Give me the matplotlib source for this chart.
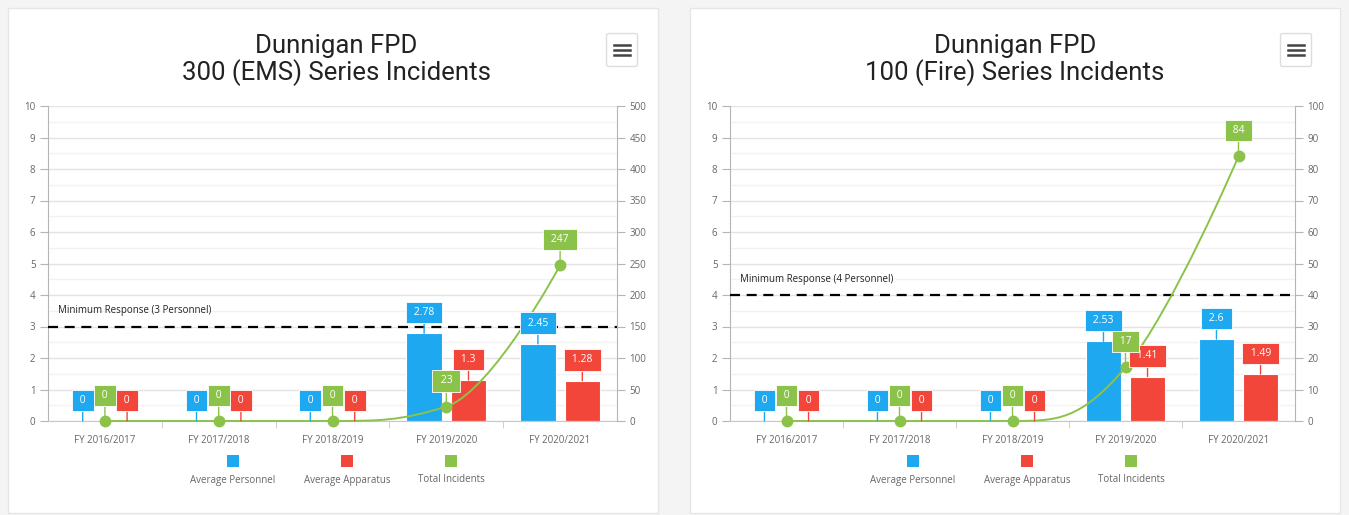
import matplotlib
matplotlib.use('Agg')
import matplotlib.pyplot as plt
from matplotlib.patches import Rectangle, FancyBboxPatch, PathPatch
from matplotlib.path import Path
from matplotlib.ticker import MultipleLocator, FixedLocator

# ---------------- data ----------------
categories = ['FY 2016/2017', 'FY 2017/2018', 'FY 2018/2019', 'FY 2019/2020', 'FY 2020/2021']
legend_labels = ['Average Personnel', 'Average Apparatus', 'Total Incidents']

ems_title = ['Dunnigan FPD', '300 (EMS) Series Incidents']
ems_personnel = [0, 0, 0, 2.78, 2.45]
ems_apparatus = [0, 0, 0, 1.3, 1.28]
ems_incidents = [0, 0, 0, 23, 247]
ems_min_response = 3
ems_min_label = 'Minimum Response (3 Personnel)'
ems_right_max = 500
ems_right_step = 50

fire_title = ['Dunnigan FPD', '100 (Fire) Series Incidents']
fire_personnel = [0, 0, 0, 2.53, 2.6]
fire_apparatus = [0, 0, 0, 1.41, 1.49]
fire_incidents = [0, 0, 0, 17, 84]
fire_min_response = 4
fire_min_label = 'Minimum Response (4 Personnel)'
fire_right_max = 100
fire_right_step = 10

left_max = 10

# ---------------- style ----------------
BLUE = '#1EA8F0'
RED = '#F2463B'
GREEN = '#8BC34A'
TICK_COL = '#666666'
AXIS_COL = '#B5B5B5'
W, H = 1349, 515
DPI = 100
PX = 72.0 / DPI  # points per pixel

plt.rcParams['font.family'] = ['Open Sans', 'DejaVu Sans']

fig = plt.figure(figsize=(W / DPI, H / DPI), dpi=DPI)
fig.patch.set_facecolor('#F4F4F4')


def fx(px):
    return px / W


def fy(py):
    return 1 - py / H


def hc_spline(xs, ys, smoothing=1.5):
    n = len(xs)
    lc = [None] * n
    rc = [None] * n
    d = smoothing + 1
    for i in range(1, n - 1):
        lx, ly = xs[i - 1], ys[i - 1]
        px, py = xs[i], ys[i]
        nx, ny = xs[i + 1], ys[i + 1]
        lcx = (smoothing * px + lx) / d
        lcy = (smoothing * py + ly) / d
        rcx = (smoothing * px + nx) / d
        rcy = (smoothing * py + ny) / d
        corr = 0
        if rcx != lcx:
            corr = (rcy - lcy) * (rcx - px) / (rcx - lcx) + py - rcy
        lcy += corr
        rcy += corr
        if lcy > ly and lcy > py:
            lcy = max(ly, py); rcy = 2 * py - lcy
        elif lcy < ly and lcy < py:
            lcy = min(ly, py); rcy = 2 * py - lcy
        if rcy > ny and rcy > py:
            rcy = max(ny, py); lcy = 2 * py - rcy
        elif rcy < ny and rcy < py:
            rcy = min(ny, py); lcy = 2 * py - rcy
        lc[i] = (lcx, lcy)
        rc[i] = (rcx, rcy)
    verts = [(xs[0], ys[0])]
    codes = [Path.MOVETO]
    for i in range(1, n):
        c1 = rc[i - 1] if rc[i - 1] is not None else (xs[i - 1], ys[i - 1])
        c2 = lc[i] if lc[i] is not None else (xs[i], ys[i])
        verts += [c1, c2, (xs[i], ys[i])]
        codes += [Path.CURVE4] * 3
    return Path(verts, codes)


def card(x0, x1, y0, y1):
    fig.patches.append(Rectangle((fx(x0), fy(y1)), fx(x1 - x0), (y1 - y0) / H,
                                 transform=fig.transFigure, facecolor='white',
                                 edgecolor='#E6E6E6', linewidth=1, zorder=0))


def menu_button(cx, cy):
    w, h = 31, 33
    fig.patches.append(FancyBboxPatch((fx(cx - w / 2), fy(cy + h / 2)), fx(w), h / H,
                                      boxstyle='round,pad=0,rounding_size=0.003',
                                      transform=fig.transFigure, facecolor='white',
                                      edgecolor='#DDDDDD', linewidth=1, zorder=1))
    for dy in (-5, 0, 5):
        fig.lines.append(plt.Line2D([fx(cx - 8), fx(cx + 8)], [fy(cy + dy), fy(cy + dy)],
                                    transform=fig.transFigure, color='#444444',
                                    linewidth=1.8, zorder=2))


def panel(x_left, x_right, card_cx, title, personnel, apparatus, incidents,
          min_resp, min_label, right_max, right_step, button_cx):
    y_top, y_bot = 106, 421
    ax = fig.add_axes([fx(x_left), fy(y_bot), fx(x_right - x_left), (y_bot - y_top) / H])
    ax.set_facecolor('none')
    ax.set_zorder(2)
    n = len(categories)
    xs = list(range(n))
    ax.set_xlim(-0.5, n - 0.5)
    ax.set_ylim(0, left_max)

    # grid
    ax.yaxis.set_major_locator(MultipleLocator(1))
    ax.yaxis.set_minor_locator(MultipleLocator(0.5))
    ax.grid(True, which='major', axis='y', color='#E3E3E3', linewidth=1, zorder=0)
    ax.grid(True, which='minor', axis='y', color='#F2F2F2', linewidth=1, zorder=0)
    ax.set_axisbelow(True)

    # bars
    bw = 0.31
    off = 0.195
    ax.bar([x - off for x in xs], personnel, width=bw, color=BLUE,
           edgecolor='white', linewidth=0.8, zorder=2)
    ax.bar([x + off for x in xs], apparatus, width=bw, color=RED,
           edgecolor='white', linewidth=0.8, zorder=2)

    # min response
    ax.axhline(min_resp, color='black', linewidth=1.6, linestyle=(0, (4.5, 3)), zorder=3)
    ax.text(10.0 / (x_right - x_left), min_resp + 0.32, min_label,
            transform=ax.get_yaxis_transform(), fontsize=7, color='#222222',
            va='bottom', ha='left')

    # axes styling
    for s in ('top', 'right'):
        ax.spines[s].set_visible(False)
    ax.spines['left'].set_color(AXIS_COL)
    ax.spines['bottom'].set_color('#C8C8C8')
    ax.tick_params(axis='y', which='major', length=6, color=AXIS_COL, labelsize=7,
                   labelcolor=TICK_COL, pad=3)
    ax.tick_params(axis='y', which='minor', length=0)
    ax.set_xticks(xs)
    ax.set_xticklabels(categories)
    ax.xaxis.set_minor_locator(FixedLocator([x + 0.5 for x in xs[:-1]]))
    ax.tick_params(axis='x', which='major', length=0, labelsize=7, labelcolor=TICK_COL, pad=10)
    ax.tick_params(axis='x', which='minor', length=5, color='#C8C8C8')

    # right axis
    ax2 = ax.twinx()
    ax2.set_zorder(3)
    ax2.set_ylim(0, right_max)
    ax2.yaxis.set_major_locator(MultipleLocator(right_step))
    for s in ('top', 'left', 'bottom'):
        ax2.spines[s].set_visible(False)
    ax2.spines['right'].set_color(AXIS_COL)
    ax2.tick_params(axis='y', length=6, color=AXIS_COL, labelsize=7,
                    labelcolor=TICK_COL, pad=3)

    # spline line
    path = hc_spline(xs, incidents)
    ax2.add_patch(PathPatch(path, facecolor='none', edgecolor=GREEN, linewidth=1.4,
                            zorder=4, clip_on=False))
    ax2.plot(xs, incidents, linestyle='none', marker='o', markersize=7.5,
             color=GREEN, zorder=5, clip_on=False)

    # data labels
    fs = 7.5
    padpx = 0.5 * fs / PX
    def lab(x, y, val, col, trans, gap):
        ax2.annotate(' %s ' % ('%g' % val), xy=(x, y), xycoords=trans,
                     xytext=(0, (gap + padpx) * PX), textcoords='offset points',
                     ha='center', va='bottom', color='white', fontsize=fs,
                     bbox=dict(boxstyle='square,pad=0.5', facecolor=col,
                               edgecolor='white', linewidth=0.6),
                     arrowprops=dict(arrowstyle='-', color=col, linewidth=1,
                                     shrinkA=0, shrinkB=0),
                     zorder=6, annotation_clip=False)
    for i in xs:
        lab(i - off, personnel[i], personnel[i], BLUE, ax.transData, 10)
    for i in xs:
        lab(i + off, apparatus[i], apparatus[i], RED, ax.transData, 10)
    for i in xs:
        lab(i, incidents[i], incidents[i], GREEN, ax2.transData, 15)

    # title
    fig.text(fx(card_cx), fy(46), title[0], fontsize=18.5, family=['Roboto', 'DejaVu Sans'],
             ha='center', va='center', color='#222222')
    fig.text(fx(card_cx), fy(73), title[1], fontsize=18.5, family=['Roboto', 'DejaVu Sans'],
             ha='center', va='center', color='#222222')

    # legend
    pc = (x_left + x_right) / 2
    cols = [BLUE, RED, GREEN]
    offs = [-99.5, 14.5, 118.5]
    for c, o, t in zip(cols, offs, legend_labels):
        cx = pc + o
        fig.patches.append(Rectangle((fx(cx - 6), fy(467)), fx(12), 12 / H,
                                     transform=fig.transFigure, facecolor=c,
                                     edgecolor='none', zorder=3))
        fig.text(fx(cx), fy(480), t, fontsize=7, color=TICK_COL, ha='center', va='center')

    menu_button(button_cx, 50)


card(8, 658, 8, 513)
card(690, 1340, 8, 513)

panel(48, 617, 336, ems_title, ems_personnel, ems_apparatus, ems_incidents,
      ems_min_response, ems_min_label, ems_right_max, ems_right_step, 622)
panel(730, 1295, 1015, fire_title, fire_personnel, fire_apparatus, fire_incidents,
      fire_min_response, fire_min_label, fire_right_max, fire_right_step, 1296)

fig.savefig('out.png', dpi=DPI, facecolor=fig.get_facecolor())
